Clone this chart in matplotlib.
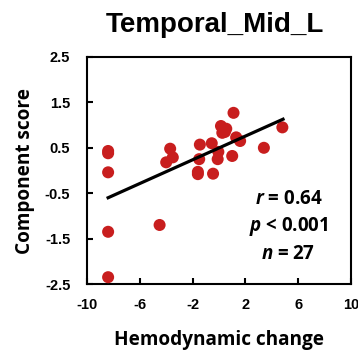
import matplotlib
matplotlib.use("Agg")
import matplotlib.pyplot as plt

plt.rcParams["mathtext.fontset"] = "custom"
plt.rcParams["mathtext.it"] = "Open Sans:italic:bold"
plt.rcParams["mathtext.rm"] = "Open Sans:bold"

# ─ DADES ─
hemo = [-8.4, -8.4, -8.4, -8.4, -8.4, -4.5, -4.0, -3.7, -3.5, -1.6, -1.45,
        -1.5, -0.45, -0.55, -0.05, -0.1, 0.15, 0.25, 0.55, 0.45, 1.1, 1.0,
        1.3, 1.6, 3.4, 4.8, -1.6]
score = [0.43, 0.38, -0.04, -1.35, -2.35, -1.2, 0.18, 0.48, 0.29, -0.08, 0.57,
         0.25, -0.07, 0.6, 0.41, 0.25, 0.98, 0.83, 0.92, 0.85, 1.27, 0.32,
         0.73, 0.65, 0.5, 0.95, -0.03]
fit_x = [-8.4, 4.85]
fit_y = [-0.60, 1.13]
xticks = [-10, -6, -2, 2, 6, 10]
yticks = [-2.5, -1.5, -0.5, 0.5, 1.5, 2.5]
stats = ["$r$ = 0.64", "$p$ < 0.001", "$n$ = 27"]

fig = plt.figure(figsize=(3.58, 3.52), dpi=100)
ax = fig.add_axes([87 / 358, 1 - 284 / 352, 264 / 358, 227 / 352])

ax.scatter(hemo, score, s=75, color="#C81E1E", edgecolors="none", zorder=3)
ax.plot(fit_x, fit_y, color="black", lw=2.3, zorder=4)

ax.set_xlim(-10, 10)
ax.set_ylim(-2.5, 2.5)
ax.set_xticks(xticks)
ax.set_yticks(yticks)
ax.set_xticklabels([str(v) for v in xticks], fontsize=10.5, fontweight="bold",
                   family="Liberation Sans")
ax.set_yticklabels([str(v) for v in yticks], fontsize=10.5, fontweight="bold",
                   family="Liberation Sans")
ax.tick_params(direction="in", length=4, width=1.5, pad=10)
ax.tick_params(axis="y", pad=12)
for s in ax.spines.values():
    s.set_linewidth(1.5)

ax.set_xlabel("Hemodynamic change", fontsize=13.7, fontweight="bold",
              family="Open Sans", labelpad=13)
ax.set_ylabel("Component score", fontsize=13.7, fontweight="bold",
              family="Open Sans", labelpad=7)
fig.text(0.6, 0.93, "Temporal_Mid_L", ha="center", va="center", fontsize=20,
         fontweight="bold", family="Liberation Sans")

for i, t in enumerate(stats):
    ax.text(5.25, -0.63 - i * 0.6, t, ha="center", va="center", fontsize=13.5,
            fontweight="bold", family="Open Sans")

fig.savefig("out.png", dpi=100)
